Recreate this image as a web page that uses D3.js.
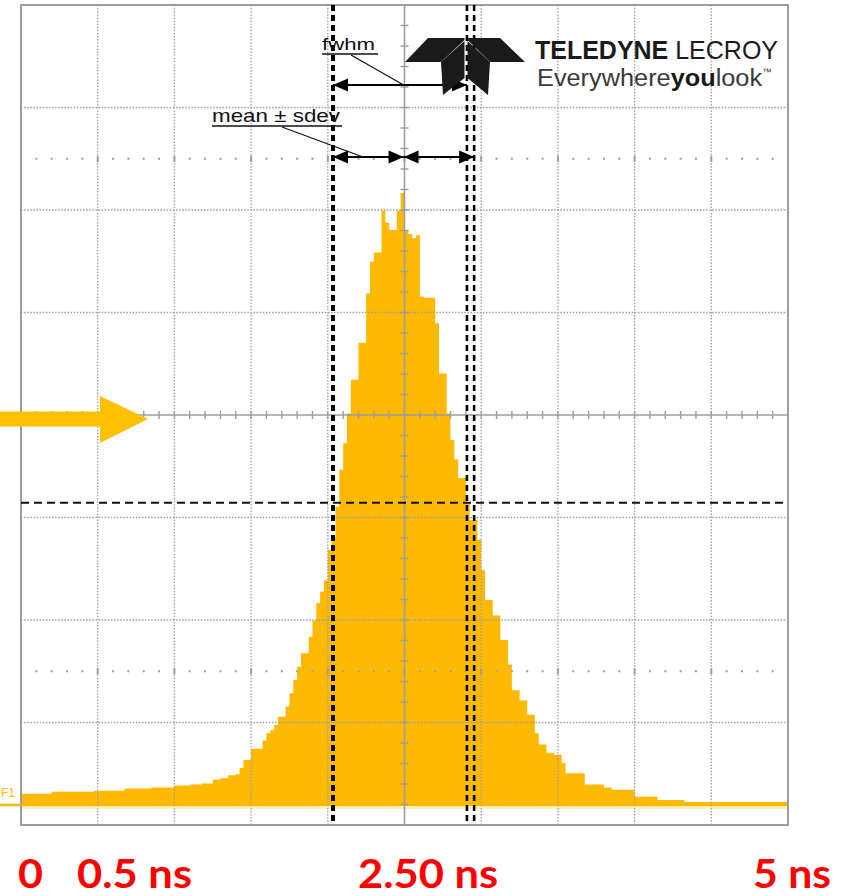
<!DOCTYPE html>
<html>
<head>
<meta charset="utf-8">
<script src="https://cdn.jsdelivr.net/npm/d3@7"></script>
<style>
  html, body { margin: 0; padding: 0; background: #fff; }
  svg { display: block; }
</style>
</head>
<body>
<svg id="chart" width="841" height="896"></svg>
<script>
// ---- Data -------------------------------------------------------------
// Timing histogram: 200 bins of 0.025 ns spanning the 5 ns window
const binWidthNs = 0.025;
const counts = [
  12, 12, 12, 12, 12, 12, 12, 12, 14, 14,
  14, 14, 14, 14, 14, 14, 14, 14, 14, 15,
  15, 15, 15, 15, 15, 15, 15, 17, 17, 17,
  17, 17, 17, 17, 18, 18, 18, 18, 18, 18,
  20, 20, 20, 20, 21, 21, 21, 22, 22, 22,
  26, 26, 27, 27, 30, 30, 31, 37, 45, 45,
  56, 56, 56, 64, 71, 74, 79, 87, 87, 97,
  110, 123, 136, 149, 149, 165, 181, 198, 209, 220,
  250, 262, 292, 328, 354, 383, 416, 416, 452, 452,
  500, 531, 540, 540, 581, 569, 562, 562, 581, 598,
  562, 558, 554, 557, 497, 496, 496, 496, 471, 422,
  422, 383, 357, 338, 320, 320, 296, 279, 279, 260,
  230, 201, 201, 186, 186, 162, 162, 138, 113, 113,
  103, 103, 89, 89, 71, 60, 60, 52, 52, 50,
  50, 42, 32, 32, 32, 32, 32, 21, 21, 21,
  21, 21, 18, 18, 16, 16, 16, 16, 16, 16,
  9, 9, 9, 9, 9, 9, 6, 6, 6, 6,
  6, 6, 6, 4, 4, 4, 4, 4, 4, 4,
  4, 4, 4, 4, 4, 4, 4, 4, 4, 4,
  4, 4, 4, 4, 4, 4, 4, 4, 4, 4
];

// Measurement cursors (ns) and the half-maximum level (counts)
const meanNs = 2.494;
const sdevNs = 0.46;
const fwhmStartNs = 2.034;
const fwhmEndNs = 2.907;
const halfMaxLevel = 296;

// Axis labels under the screen (ns)
const tickLabels = [
  { ns: 0,   text: "0" },
  { ns: 0.5, text: "0.5 ns" },
  { ns: 2.5, text: "2.50 ns" },
  { ns: 5,   text: "5 ns" }
];

// Screen layout: 10 horizontal x 8 vertical divisions
const xDivs = 10, yDivs = 8;
const countsPerDiv = 100;
const traceOffsetDiv = 0.185;   // trace baseline sits above the bottom edge
const dotRows = [1.5, 6.5];     // rows of fifth-division dots

// ---- Geometry ---------------------------------------------------------
const frame = { left: 21, right: 788, top: 5, bottom: 825 };
const svg = d3.select("#chart");

const gx = d3.scaleLinear().domain([0, xDivs]).range([frame.left, frame.right]);
const gy = d3.scaleLinear().domain([0, yDivs]).range([frame.bottom, frame.top]);
const x = d3.scaleLinear().domain([0, counts.length * binWidthNs]).range([frame.left, frame.right]);
const y = d3.scaleLinear()
  .domain([-traceOffsetDiv * countsPerDiv, (yDivs - traceOffsetDiv) * countsPerDiv])
  .range([frame.bottom, frame.top]);

const ORANGE = "#FFB900";
const GRID = "#9d9d9d";

// ---- Histogram trace --------------------------------------------------
const steps = counts.map((c, i) => ({ ns: i * binWidthNs, c }));
steps.push({ ns: counts.length * binWidthNs, c: counts[counts.length - 1] });

// pale halo under the trace baseline
svg.append("rect")
  .attr("x", frame.left).attr("y", y(0))
  .attr("width", frame.right - frame.left).attr("height", 3)
  .attr("fill", "#FFF1B0");

svg.append("path")
  .datum(steps)
  .attr("fill", ORANGE)
  .attr("d", d3.area()
    .curve(d3.curveStepAfter)
    .x(d => x(d.ns))
    .y0(y(0))
    .y1(d => y(d.c)));

// ---- Graticule --------------------------------------------------------
const grid = svg.append("g");
d3.range(1, xDivs).filter(k => k !== xDivs / 2).forEach(k => {
  grid.append("line")
    .attr("x1", gx(k)).attr("x2", gx(k))
    .attr("y1", frame.top).attr("y2", frame.bottom)
    .attr("stroke", GRID).attr("stroke-width", 1.3)
    .attr("stroke-dasharray", "1.5,1.6");
});
d3.range(1, yDivs).filter(k => k !== yDivs / 2).forEach(k => {
  grid.append("line")
    .attr("y1", gy(k)).attr("y2", gy(k))
    .attr("x1", frame.left).attr("x2", frame.right)
    .attr("stroke", GRID).attr("stroke-width", 1.3)
    .attr("stroke-dasharray", "1.5,1.6");
});

dotRows.forEach(r => {
  d3.range(1, xDivs * 5).forEach(k => {
    const onGrid = k % 5 === 0;
    grid.append("rect")
      .attr("x", gx(k / 5) - 1).attr("y", gy(r) - (onGrid ? 3 : 1))
      .attr("width", 2).attr("height", onGrid ? 6 : 2)
      .attr("fill", GRID);
  });
});

// centre axes with minor ticks
grid.append("line")
  .attr("x1", frame.left).attr("x2", frame.right)
  .attr("y1", gy(yDivs / 2)).attr("y2", gy(yDivs / 2))
  .attr("stroke", GRID).attr("stroke-width", 1.6);
grid.append("line")
  .attr("x1", gx(xDivs / 2)).attr("x2", gx(xDivs / 2))
  .attr("y1", frame.top).attr("y2", frame.bottom)
  .attr("stroke", GRID).attr("stroke-width", 1.6);
d3.range(1, xDivs * 5).forEach(k => {
  grid.append("line")
    .attr("x1", gx(k / 5)).attr("x2", gx(k / 5))
    .attr("y1", gy(yDivs / 2) - 4).attr("y2", gy(yDivs / 2) + 4)
    .attr("stroke", GRID).attr("stroke-width", 1.4);
});
d3.range(1, yDivs * 5).forEach(k => {
  grid.append("line")
    .attr("y1", gy(k / 5)).attr("y2", gy(k / 5))
    .attr("x1", gx(xDivs / 2) - 4).attr("x2", gx(xDivs / 2) + 4)
    .attr("stroke", GRID).attr("stroke-width", 1.4);
});

// frame
svg.append("rect")
  .attr("x", frame.left).attr("y", frame.top)
  .attr("width", frame.right - frame.left).attr("height", frame.bottom - frame.top)
  .attr("fill", "none").attr("stroke", GRID).attr("stroke-width", 2);

// ---- Cursors ----------------------------------------------------------
const cur = svg.append("g");
cur.append("line")
  .attr("x1", x(meanNs - sdevNs)).attr("x2", x(meanNs - sdevNs))
  .attr("y1", frame.top).attr("y2", frame.bottom)
  .attr("stroke", "#000").attr("stroke-width", 4)
  .attr("stroke-dasharray", "6,4");
[fwhmEndNs, meanNs + sdevNs].forEach(ns => {
  cur.append("line")
    .attr("x1", x(ns)).attr("x2", x(ns))
    .attr("y1", frame.top).attr("y2", frame.bottom)
    .attr("stroke", "#000").attr("stroke-width", 2.6)
    .attr("stroke-dasharray", "6,4");
});
cur.append("line")
  .attr("x1", frame.left).attr("x2", frame.right)
  .attr("y1", y(halfMaxLevel)).attr("y2", y(halfMaxLevel))
  .attr("stroke", "#111").attr("stroke-width", 2)
  .attr("stroke-dasharray", "8,5");

// ---- Measurement annotations -----------------------------------------
const ann = svg.append("g");
function head(tipX, yy, dir) {
  // filled triangle, dir = -1 points left, +1 points right
  const L = 15, H = 6.5;
  ann.append("path")
    .attr("d", `M${tipX},${yy} L${tipX - dir * L},${yy - H} L${tipX - dir * L},${yy + H} Z`)
    .attr("fill", "#000");
}
function span(x1, x2, yy) {
  ann.append("line").attr("x1", x1).attr("x2", x2).attr("y1", yy).attr("y2", yy)
    .attr("stroke", "#000").attr("stroke-width", 2);
  head(x1, yy, -1);
  head(x2, yy, 1);
}
const fwhmY = 85, sdevY = 157;
span(x(fwhmStartNs), x(fwhmEndNs), fwhmY);
span(x(meanNs - sdevNs), x(meanNs), sdevY);
span(x(meanNs), x(meanNs + sdevNs), sdevY);

ann.append("text").attr("x", 322).attr("y", 50)
  .attr("font-family", "Liberation Sans, Arial, sans-serif").attr("font-size", 17)
  .attr("textLength", 53).attr("lengthAdjust", "spacingAndGlyphs")
  .attr("fill", "#111").text("fwhm");
ann.append("line").attr("x1", 322).attr("x2", 378).attr("y1", 54).attr("y2", 54)
  .attr("stroke", "#111").attr("stroke-width", 1.5);
ann.append("line").attr("x1", 351).attr("y1", 55).attr("x2", x(meanNs)).attr("y2", fwhmY)
  .attr("stroke", "#111").attr("stroke-width", 1.2);

ann.append("text").attr("x", 212).attr("y", 122)
  .attr("font-family", "Liberation Sans, Arial, sans-serif").attr("font-size", 19)
  .attr("textLength", 128).attr("lengthAdjust", "spacingAndGlyphs")
  .attr("fill", "#111").text("mean \u00b1 sdev");
ann.append("line").attr("x1", 212).attr("x2", 342).attr("y1", 126).attr("y2", 126)
  .attr("stroke", "#111").attr("stroke-width", 1.5);
ann.append("line").attr("x1", 282).attr("y1", 127).attr("x2", 363).attr("y2", sdevY)
  .attr("stroke", "#111").attr("stroke-width", 1.2);

// ---- Brand mark -------------------------------------------------------
const logo = svg.append("g").attr("fill", "#1a1a1a");
const logoShapes = [
  [[428, 38], [464.5, 38], [464.5, 40], [441, 62], [405, 62]],
  [[467.5, 38], [500, 38], [525, 62], [490, 62], [467.5, 40]],
  [[441, 62], [464.5, 41], [464.5, 78], [443, 95]],
  [[467.5, 41], [490, 62], [488, 95], [467.5, 78]]
];
logoShapes.forEach(p => logo.append("path").attr("d", "M" + p.join("L") + "Z"));

const brand = svg.append("text").attr("x", 535).attr("y", 59)
  .attr("font-family", "Liberation Sans, Arial, sans-serif").attr("font-size", 26)
  .attr("fill", "#1a1a1a").attr("textLength", 243).attr("lengthAdjust", "spacingAndGlyphs");
brand.append("tspan").attr("font-weight", "bold").text("TELEDYNE");
brand.append("tspan").text(" LECROY");

const tag = svg.append("text").attr("x", 537).attr("y", 86)
  .attr("font-family", "Liberation Sans, Arial, sans-serif").attr("font-size", 23)
  .attr("fill", "#3a3a3a").attr("textLength", 235).attr("lengthAdjust", "spacingAndGlyphs");
tag.append("tspan").text("Everywhere");
tag.append("tspan").attr("font-weight", "bold").attr("fill", "#1a1a1a").text("you");
tag.append("tspan").text("look");
tag.append("tspan").attr("font-size", 9).attr("dy", -11).text("\u2122");

// ---- Trace label and ground marker -----------------------------------
svg.append("text").attr("x", 1).attr("y", 797)
  .attr("font-family", "Liberation Sans, Arial, sans-serif").attr("font-size", 12)
  .attr("fill", ORANGE).text("F1");
svg.append("line").attr("x1", 0).attr("x2", frame.left).attr("y1", y(0) - 1).attr("y2", y(0) - 1)
  .attr("stroke", ORANGE).attr("stroke-width", 2.5);

// ---- Level pointer ---------------------------------------------------
const ay = gy(yDivs / 2) + 4;
svg.append("path")
  .attr("d", `M0,${ay - 7.5} L100,${ay - 7.5} L100,${ay - 23} L148,${ay} L100,${ay + 24} L100,${ay + 7.5} L0,${ay + 7.5} Z`)
  .attr("fill", "#FFC000");

// ---- Time labels ------------------------------------------------------
const labelWidths = { "0": 25, "0.5 ns": 115, "2.50 ns": 140, "5 ns": 78 };
const labelStarts = { "0": 18, "0.5 ns": 77, "2.50 ns": 358, "5 ns": 753 };
svg.append("g").selectAll("text").data(tickLabels).join("text")
  .attr("x", d => labelStarts[d.text])
  .attr("y", 888)
  .attr("font-family", "Lato, 'Open Sans', sans-serif")
  .attr("font-weight", "bold")
  .attr("font-size", 41)
  .attr("fill", "#FF0000")
  .attr("textLength", d => labelWidths[d.text])
  .attr("lengthAdjust", "spacingAndGlyphs")
  .text(d => d.text);
</script>
</body>
</html>
